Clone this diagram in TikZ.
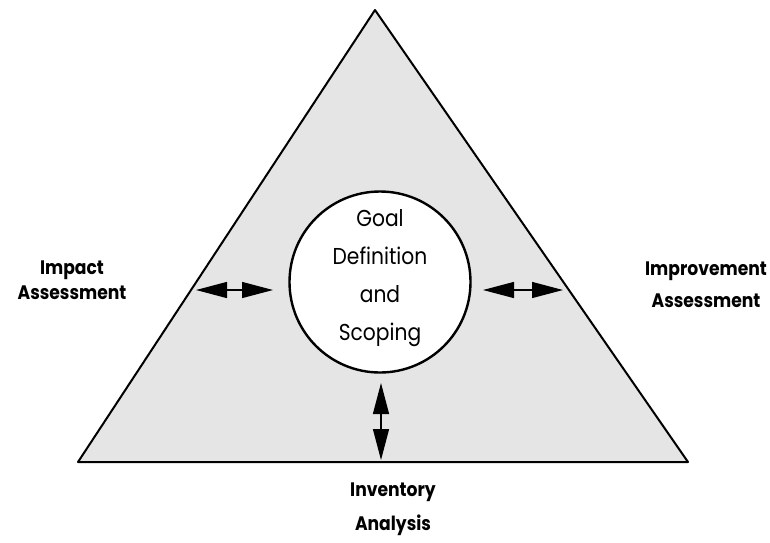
\documentclass[tikz,border=0pt]{standalone}
\usepackage{fontspec}
\setmainfont{Poppins}[FakeStretch=0.88]
\usetikzlibrary{arrows.meta}
\begin{document}
\begin{tikzpicture}[x=1pt,y=-1pt,
  tri/.style={draw=black,line width=2pt,fill=black!10,line join=round},
  goalc/.style={draw=black,line width=2.4pt,fill=white,circle,minimum size=181pt,inner sep=0pt},
  dbl/.style={line width=1.3pt,{Triangle[length=31pt,width=16pt]}-{Triangle[length=31pt,width=16pt]}},
  lab/.style={font=\bfseries\fontsize{19.5}{#1}\selectfont,align=center,inner sep=0pt},
  ctext/.style={font=\fontsize{23}{38}\selectfont,align=center,inner sep=0pt}]
\useasboundingbox (0,0) rectangle (770,542);
\coordinate (apex) at (375,10);
\coordinate (bl) at (78,462);
\coordinate (br) at (688,462);
\draw[tri] (apex) -- (br) -- (bl) -- cycle;
\node[goalc] (goal) at (380,282) {};
\node[ctext] (gtext) at (380,278) {Goal\\Definition\\and\\Scoping};
\coordinate (la) at (196,290);
\coordinate (lb) at (273,290);
\coordinate (ra) at (483,290);
\coordinate (rb) at (563,290);
\coordinate (ba) at (381,383);
\coordinate (bb) at (381,460);
\draw[dbl] (la) -- (lb);
\draw[dbl] (ra) -- (rb);
\draw[dbl] (ba) -- (bb);
\node[lab=25] (impact) at (72,280) {Impact\\Assessment};
\node[lab=32] (improve) at (706,285) {Improvement\\Assessment};
\node[lab=34] (invent) at (393,509) {Inventory\\Analysis};
\end{tikzpicture}
\end{document}
